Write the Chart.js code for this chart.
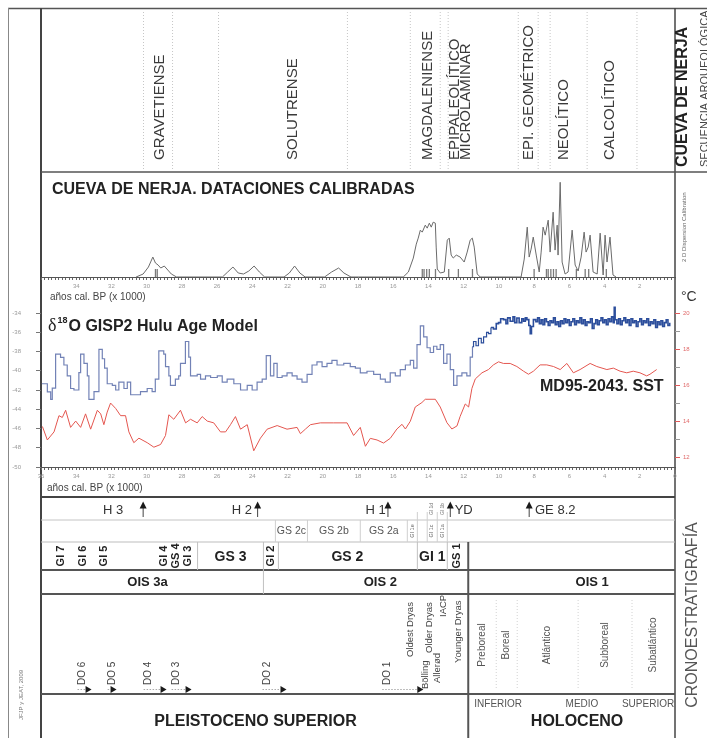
<!DOCTYPE html>
<html lang="es">
<head>
<meta charset="utf-8">
<title>Cueva de Nerja</title>
<script src="https://cdn.jsdelivr.net/npm/chart.js@4.4.1/dist/chart.umd.min.js"></script>
<style>
  html, body { margin: 0; padding: 0; background: #fff; }
  #fig { position: relative; width: 707px; height: 738px; overflow: hidden; }
  #fig canvas { position: absolute; left: 0; }
</style>
</head>
<body>
<div id="fig">
  <canvas id="chart-frame" width="707" height="738" style="top:0"></canvas>
  <canvas id="chart-dates" width="707" height="128" style="top:172px"></canvas>
  <canvas id="chart-climate" width="707" height="220" style="top:280px"></canvas>
</div>
<script>
// Cueva de Nerja: cultural sequence, calibrated dates, GISP2 d18O / MD95-2043 SST, chronostratigraphy
const SANS = "'Liberation Sans', Arial, sans-serif";
Chart.defaults.font.family = SANS;

// ── cultural periods (ka cal BP) ──
const cultLabels = ['GRAVETIENSE', 'SOLUTRENSE', 'MAGDALENIENSE', 'EPIPALEOLÍTICO\nMICROLAMINAR', 'EPI. GEOMÉTRICO', 'NEOLÍTICO', 'CALCOLÍTICO'];
const cultAges = [29.27, 21.72, 14.01, 12.2, 8.28, 6.3, 3.69];
const cultBounds = [30.18, 28.53, 25.92, 18.6, 15.03, 13.33, 12.88, 8.9, 7.77, 7.09, 4.99, 2.16];

// ── calibrated dates, summed probability (relative units) ──
const datesAge = [30.6, 30.2, 29.9, 29.75, 29.65, 29.5, 29.35, 29.2, 29.0, 28.8, 28.6, 28.3,
    25.7, 25.4, 25.1, 24.8, 24.5, 24.2, 23.9, 23.6, 23.3,
    22.2, 21.9, 21.6, 21.3, 21.0,
    19.9, 19.5, 19.1, 18.8, 18.4,
    15.43, 15.14, 14.86, 14.69, 14.58, 14.46, 14.35, 14.18, 14.07, 13.95, 13.84, 13.73, 13.61, 13.56, 13.5,
    13.33, 13.1, 12.93, 12.82, 12.71, 12.59, 12.42, 12.2, 11.97, 11.8, 11.63, 11.51, 11.4, 11.23, 11.06,
    8.74, 8.56, 8.39, 8.28, 8.17, 8.05, 7.88, 7.71, 7.6, 7.49, 7.37, 7.2, 7.09, 6.92, 6.81, 6.69, 6.64,
    6.52, 6.41, 6.24, 6.07, 5.84, 5.67, 5.5, 5.33, 5.16, 5.05, 4.93, 4.82, 4.65, 4.42, 4.25, 4.08, 3.97,
    3.86, 3.69, 3.52, 3.35];
const datesProb = [0, 3, 10, 16, 20, 14, 12, 9, 11, 7, 3, 0,
    0, 5, 10, 4, 3, 6, 11, 5, 0,
    0, 4, 11, 4, 0,
    0, 5, 9, 4, 0,
    0, 5, 19, 33, 39, 47, 45, 52, 49, 54, 50, 55, 54, 30, 8,
    4, 5, 37, 39, 22, 19, 22, 20, 15, 25, 37, 39, 30, 3, 0,
    0, 18, 50, 20, 28, 40, 22, 5, 25, 50, 42, 57, 25, 65, 27, 52, 22,
    95, 15, 3, 5, 47, 12, 6, 20, 45, 25, 30, 42, 5, 3, 44, 2, 42,
    15, 40, 2, 0];
const dateMarkAges = [29.5, 29.4, 14.35, 14.25, 14.1, 13.95, 13.6, 12.85, 12.3, 11.5, 8.0, 7.3, 7.2, 7.05, 6.9, 6.75, 5.6, 5.1, 4.9, 3.9];

// ── d18O GISP2 (Hulu age model), permil ──
const d18oAge = [35.95, 35.73, 35.64, 35.45, 35.36, 35.17, 34.89, 34.70, 34.51, 34.32, 34.13, 33.85, 33.75, 33.56,
    33.37, 33.28, 32.99, 32.71, 32.52, 32.39, 32.24, 31.95, 31.76, 31.58, 31.29, 31.10, 30.91, 30.35, 29.97,
    29.69, 29.51, 29.31, 29.03, 28.93, 28.74, 28.65, 28.37, 28.18, 28.08, 27.80, 27.61, 27.51, 27.13, 26.94,
    26.66, 26.37, 25.99, 25.71, 25.43, 25.05, 24.67, 24.29, 24.01, 23.73, 23.44, 23.21, 22.97, 22.78, 22.59,
    22.31, 22.03, 21.74, 21.46, 21.18, 20.89, 20.61, 20.33, 20.04, 19.76, 19.48, 19.19, 18.81, 18.44, 18.15,
    17.87, 17.49, 17.11, 16.73, 16.45, 16.17, 15.88, 15.60, 15.31, 15.03, 14.84, 14.65, 14.46, 14.27, 14.08,
    13.90, 13.71, 13.52, 13.33, 13.14, 12.95, 12.76, 12.57, 12.38, 12.10, 11.82, 11.63, 11.5, 11.44, 11.3,
    11.16, 11.0, 10.87, 10.7, 10.59, 10.45, 10.31, 10.15, 10.02, 9.9, 9.74, 9.6, 9.5, 9.36, 9.2, 9.1, 8.98,
    8.85, 8.7, 8.6, 8.5, 8.41, 8.3, 8.22, 8.15, 8.04, 7.9, 7.8, 7.7, 7.6, 7.5, 7.4, 7.3, 7.2, 7.1, 7.0, 6.9,
    6.8, 6.7, 6.6, 6.5, 6.4, 6.3, 6.2, 6.1, 6.0, 5.9, 5.8, 5.7, 5.6, 5.5, 5.4, 5.3, 5.2, 5.1, 5.0, 4.9, 4.8,
    4.7, 4.6, 4.5, 4.4, 4.3, 4.2, 4.1, 4.0, 3.9, 3.8, 3.7, 3.6, 3.5, 3.45, 3.4, 3.3, 3.2, 3.1, 3.0, 2.9, 2.8,
    2.7, 2.6, 2.5, 2.4, 2.3, 2.2, 2.1, 2.0, 1.9, 1.8, 1.7, 1.6, 1.5, 1.4, 1.3, 1.2, 1.1, 1.0, 0.9, 0.8, 0.7,
    0.6, 0.5, 0.4, 0.3];
const d18oValue = [-41.35, -41.35, -42.2, -42.98, -41.8, -38.26, -38.6, -39.4, -40.54, -41.84, -42.0, -40.2, -38.26, -39.24,
    -40.54, -42.98, -42.16, -37.77, -38.75, -39.72, -41.35, -41.51, -42.0, -41.19, -41.84, -41.19, -42.49, -42.16, -41.84,
    -42.16, -40.86, -37.93, -38.26, -39.56, -40.54, -41.51, -40.86, -40.54, -39.24, -36.96, -38.59, -40.54, -40.37, -40.86,
    -40.54, -40.7, -40.54, -41.19, -40.86, -41.35, -42.0, -41.51, -42.0, -41.19, -40.86, -38.42, -40.54, -39.24, -40.7,
    -40.54, -40.21, -40.54, -40.86, -41.19, -40.37, -39.4, -39.07, -39.56, -39.24, -38.91, -39.4, -39.24, -39.56, -39.72,
    -40.21, -40.05, -40.37, -40.86, -41.19, -40.21, -40.54, -39.89, -39.4, -38.91, -39.72, -37.28, -35.33, -36.47, -37.61,
    -38.1, -37.45, -37.77, -37.28, -39.24, -38.26, -39.89, -41.51, -40.54, -40.21, -40.54, -38.59, -37.5, -36.96, -37.4,
    -36.63, -37.1, -36.47, -36.0, -36.15, -35.5, -35.66, -35.1, -35.0, -34.6, -34.68, -35.1, -34.5, -34.85, -34.4, -35.0, -34.52,
    -35.0, -34.6, -34.85, -34.5, -34.68, -35.3, -36.15, -35.4, -34.68, -34.9, -34.5, -35.1, -34.7, -35.2, -34.6, -34.9, -35.3, -34.8, -35.0, -34.5,
    -35.2, -34.9, -35.4, -34.8, -35.1, -34.6, -35.0, -34.7, -35.3, -34.9, -34.6, -35.2, -34.8, -35.0, -34.5, -35.1, -34.7, -35.3, -34.9, -35.0, -34.6,
    -35.6, -35.1, -34.7, -35.2, -34.8, -34.5, -35.0, -34.7, -35.2, -34.6, -34.9, -34.4, -35.0, -33.4, -34.7, -35.1, -34.6, -35.2, -34.8, -34.5, -35.0,
    -34.7, -35.3, -34.6, -35.0, -34.8, -35.4, -34.9, -34.6, -35.2, -34.8, -35.0, -34.6, -35.3, -34.9, -35.1, -34.7, -35.5, -34.9, -35.2, -34.8, -35.4,
    -35.0, -34.7, -35.3, -35.0];

// ── MD95-2043 sea surface temperature, °C ──
const sstAge = [35.92, 35.64, 35.26, 34.98, 34.79, 34.60, 34.32, 34.03, 33.75, 33.47, 33.18, 32.80, 32.61, 32.43, 32.24,
    32.05, 31.76, 31.48, 31.20, 31.01, 30.73, 30.44, 29.97, 29.59, 29.21, 28.93, 28.74, 28.46, 28.08, 27.79, 27.51,
    27.13, 26.85, 26.56, 26.19, 25.81, 25.52, 25.24, 24.96, 24.67, 24.29, 23.92, 23.54, 23.16, 22.59, 22.03, 21.46,
    21.27, 20.99, 20.70, 20.14, 19.38, 18.62, 18.25, 17.87, 17.58, 17.30, 16.92, 16.55, 16.17, 15.79, 15.50, 15.31,
    15.03, 14.75, 14.37, 14.18, 13.61, 13.33, 12.95, 12.67, 12.38, 12.20, 11.91, 11.72, 11.53, 11.34, 10.96, 10.59,
    10.31, 10.02, 9.74, 9.36, 8.98, 8.60, 8.32, 8.04, 7.66, 7.28, 6.90, 6.52, 6.14, 5.77, 5.39, 4.82, 4.44, 3.87,
    3.50, 3.12, 2.74, 2.37, 1.99, 1.61, 1.42, 1.04];
const sstValue = [13.7, 12.95, 13.4, 14.3, 14.2, 14.6, 13.65, 14.0, 13.65, 14.4, 13.55, 14.6, 14.4, 13.8, 14.5,
    15.0, 14.7, 14.3, 14.3, 13.4, 12.8, 13.05, 12.8, 12.55, 12.7, 13.2, 14.35, 14.1, 14.6, 13.9, 14.1,
    13.9, 14.25, 14.0, 13.9, 13.4, 13.4, 13.8, 14.25, 13.55, 13.8, 12.35, 13.05, 13.55, 13.75, 13.55, 13.65,
    13.3, 13.55, 13.8, 13.9, 13.9, 13.9, 13.2, 13.65, 12.6, 13.04, 12.95, 12.78, 13.04, 13.56, 13.82, 13.56,
    13.99, 14.78, 15.03, 15.21, 15.21, 14.78, 13.91, 13.56, 13.73, 14.26, 14.95, 14.78, 15.82, 16.34, 16.68, 16.86,
    17.12, 17.29, 17.2, 17.2, 17.03, 16.77, 16.6, 16.77, 17.12, 17.12, 17.03, 16.86, 17.2, 16.68, 16.86, 17.2, 17.03, 16.86,
    16.94, 16.77, 16.68, 16.77, 16.68, 16.51, 16.6, 16.86];

const d18oTicks = [-34, -36, -38, -40, -42, -44, -46, -48, -50];
const sstTicks = [20, 19, 18, 17, 16, 15, 14, 13, 12];

// ── chronostratigraphy table ──
const hLabels = ['H 3', 'H 2', 'H 1', 'YD', 'GE 8.2'];
const hAges = [30.2, 23.7, 16.3, 12.76, 8.28];
const hTextAges = [31.9, 24.6, 17.0, 12.0, 6.8];
const gs2Labels = ['GS 2c', 'GS 2b', 'GS 2a'];
const gs2Bounds = [22.69, 20.87, 17.87, 15.2];
const gi1SubBounds = [14.63, 14.07, 13.5, 12.93];
const gi1LowLabels = ['GI 1e', 'GI 1c', 'GI 1a'];
const gi1LowAges = [14.92, 13.8, 13.2];
const gi1HighLabels = ['GI 1d', 'GI 1b'];
const gi1HighAges = [13.8, 13.2];
const gsVLabels = ['GI 7', 'GI 6', 'GI 5', 'GI 4', 'GS 4', 'GI 3', 'GI 2', 'GS 1'];
const gsVAges = [34.88, 33.64, 32.44, 29.04, 28.36, 27.68, 22.97, 12.37];
const gsHLabels = ['GS 3', 'GS 2', 'GI 1'];
const gsHAges = [25.24, 18.6, 13.78];
const gsBounds = [27.11, 23.37, 22.52, 14.63, 12.93];
const oisLabels = ['OIS 3a', 'OIS 2', 'OIS 1'];
const oisAges = [29.95, 16.73, 4.7];
const oisBounds = [23.37];
const doLabels = ['DO 6', 'DO 5', 'DO 4', 'DO 3', 'DO 2', 'DO 1'];
const doTextAges = [33.64, 31.93, 29.89, 28.3, 23.14, 16.34];
const doArrowAges = [33.3, 31.88, 29.04, 27.62, 22.23, 14.46];
const lgLabels = ['Oldest Dryas', 'Bölling', 'Older Dryas', 'Allerød', 'IACP', 'Younger Dryas'];
const lgAges = [15.03, 14.2, 13.95, 13.5, 13.16, 12.31];
const pzLabels = ['Preboreal', 'Boreal', 'Atlántico', 'Subboreal', 'Subatlántico'];
const pzBounds = [11.74, 10.15, 8.96, 5.5, 2.44, 0];
const subLabels = ['INFERIOR', 'MEDIO', 'SUPERIOR'];
const subAges = [10.04, 5.28, 1.53];
const epochLabels = ['PLEISTOCENO SUPERIOR', 'HOLOCENO'];
const epochAges = [23.82, 5.56];
const epochBound = 11.74;

// layout (page pixels)
const ROW = { top: 497, r1: 520, r2: 542, r3: 570, r4: 594, r5: 694, bot: 738 };
const lgBottomY = [657, 689, 653, 683, 617, 663];

// ── drawing helpers ──
function line(ctx, x1, y1, x2, y2, color, width, dash) {
    ctx.save();
    ctx.strokeStyle = color;
    ctx.lineWidth = width;
    ctx.setLineDash(dash || []);
    ctx.beginPath();
    ctx.moveTo(x1, y1);
    ctx.lineTo(x2, y2);
    ctx.stroke();
    ctx.restore();
}

function text(ctx, str, x, y, font, color, align = 'left', baseline = 'alphabetic') {
    ctx.save();
    ctx.font = font;
    ctx.fillStyle = color;
    ctx.textAlign = align;
    ctx.textBaseline = baseline;
    ctx.fillText(str, x, y);
    ctx.restore();
}

// rotated text reading bottom to top, x is the column centre
function vtext(ctx, str, x, y, font, color, align = 'left') {
    ctx.save();
    ctx.translate(x, y);
    ctx.rotate(-Math.PI / 2);
    ctx.font = font;
    ctx.fillStyle = color;
    ctx.textAlign = align;
    ctx.textBaseline = 'middle';
    ctx.fillText(str, 0, 0);
    ctx.restore();
}

function upArrow(ctx, x) {
    line(ctx, x, 508, x, 517, '#444', 1);
    ctx.save();
    ctx.fillStyle = '#1a1a1a';
    ctx.beginPath();
    ctx.moveTo(x, 501.5);
    ctx.lineTo(x - 3.5, 508.5);
    ctx.lineTo(x + 3.5, 508.5);
    ctx.closePath();
    ctx.fill();
    ctx.restore();
}

function rightArrow(ctx, x, y) {
    ctx.save();
    ctx.fillStyle = '#1a1a1a';
    ctx.beginPath();
    ctx.moveTo(x + 3, y);
    ctx.lineTo(x - 3, y - 3.5);
    ctx.lineTo(x - 3, y + 3.5);
    ctx.closePath();
    ctx.fill();
    ctx.restore();
}

const mid = (arr, i) => (arr[i] + arr[i + 1]) / 2;

const framePlugin = {
    id: 'nerjaFrame',
    afterDraw(chart) {
        const ctx = chart.ctx;
        const xs = chart.scales.x;
        const px = a => xs.getPixelForValue(a);
        const L = xs.left, R = xs.right;

        // cultural sequence
        cultBounds.forEach(b => line(ctx, px(b), 12, px(b), 170, '#c6c6c6', 1, [1, 2]));
        cultLabels.forEach((lab, i) => {
            const parts = lab.split('\n');
            parts.forEach((p, j) => {
                const off = (j - (parts.length - 1) / 2) * 11.5;
                vtext(ctx, p, px(cultAges[i]) + off, 160, `15px ${SANS}`, '#3a3a3a');
            });
        });

        // outer frame
        line(ctx, 8, 8.5, 707, 8.5, '#555', 1.5);
        line(ctx, 8.5, 8, 8.5, 738, '#888', 1);
        line(ctx, L, 8, L, 738, '#444', 2);
        line(ctx, R, 8, R, 738, '#444', 1.5);
        line(ctx, L, 172, 707, 172, '#555', 1.5);

        // side labels
        vtext(ctx, 'CUEVA DE NERJA', 683, 167, `bold 16px ${SANS}`, '#222');
        vtext(ctx, 'SECUENCIA ARQUEOLÓGICA', 705, 167, `11px ${SANS}`, '#444');
        vtext(ctx, '2 D Dispersion Calibration', 684, 262, `6px ${SANS}`, '#666');
        text(ctx, '°C', 681, 301, `14px ${SANS}`, '#333');
        vtext(ctx, 'CRONOESTRATIGRAFÍA', 693, 615, `16px ${SANS}`, '#555', 'center');
        vtext(ctx, 'JFJP y JEAT, 2009', 21, 695, `6px ${SANS}`, '#777', 'center');

        // panel titles
        text(ctx, 'CUEVA DE NERJA. DATACIONES CALIBRADAS', 52, 194, `bold 16px ${SANS}`, '#222');
        text(ctx, 'años cal. BP (x 1000)', 50, 300, `10px ${SANS}`, '#444');
        text(ctx, 'años cal. BP (x 1000)', 47, 491, `10px ${SANS}`, '#444');
        ctx.save();
        ctx.font = "18px 'Liberation Serif', serif";
        const wd = ctx.measureText('δ').width;
        ctx.font = `bold 9px ${SANS}`;
        const w18 = ctx.measureText('18').width;
        ctx.restore();
        text(ctx, 'δ', 48, 331, "18px 'Liberation Serif', serif", '#222');
        text(ctx, '18', 49 + wd, 323, `bold 9px ${SANS}`, '#222');
        text(ctx, 'O GISP2 Hulu Age Model', 50 + wd + w18, 331, `bold 16px ${SANS}`, '#222');
        text(ctx, 'MD95-2043. SST', 540, 391, `bold 16px ${SANS}`, '#222');

        // table rows
        line(ctx, L, ROW.top, R, ROW.top, '#444', 2);
        line(ctx, L, ROW.r1, R, ROW.r1, '#c4c4c4', 1);
        line(ctx, L, ROW.r2, R, ROW.r2, '#bdbdbd', 1);
        [ROW.r3, ROW.r4, ROW.r5].forEach(y => line(ctx, L, y, R, y, '#555', 2));

        // H events
        hLabels.forEach((lab, i) => {
            upArrow(ctx, px(hAges[i]));
            text(ctx, lab, px(hTextAges[i]), 510, `13px ${SANS}`, '#333', 'center', 'middle');
        });
        gi1HighLabels.forEach((lab, i) => vtext(ctx, lab, px(gi1HighAges[i]), 509, `5px ${SANS}`, '#777', 'center'));

        // GS 2 subdivisions
        gs2Bounds.forEach(b => line(ctx, px(b), ROW.r1, px(b), ROW.r2, '#cfcfcf', 1));
        gi1SubBounds.forEach(b => line(ctx, px(b), ROW.r1 - 8, px(b), ROW.r2, '#cfcfcf', 1));
        gs2Labels.forEach((lab, i) => text(ctx, lab, px(mid(gs2Bounds, i)), 531, `10.5px ${SANS}`, '#555', 'center', 'middle'));
        gi1LowLabels.forEach((lab, i) => vtext(ctx, lab, px(gi1LowAges[i]), 531, `5.5px ${SANS}`, '#666', 'center'));

        // GS / GI
        gsBounds.forEach(b => line(ctx, px(b), ROW.r2, px(b), ROW.r3, '#c0c0c0', 1));
        gsVLabels.forEach((lab, i) => vtext(ctx, lab, px(gsVAges[i]), 556, `bold 11px ${SANS}`, '#222', 'center'));
        gsHLabels.forEach((lab, i) => text(ctx, lab, px(gsHAges[i]), 557, `bold 14px ${SANS}`, '#222', 'center', 'middle'));

        // OIS
        oisBounds.forEach(b => line(ctx, px(b), ROW.r3, px(b), ROW.r4, '#c0c0c0', 1));
        oisLabels.forEach((lab, i) => text(ctx, lab, px(oisAges[i]), 582, `bold 13px ${SANS}`, '#222', 'center', 'middle'));

        // DO events and late glacial stages
        doLabels.forEach((lab, i) => {
            const tx = px(doTextAges[i]), ax = px(doArrowAges[i]);
            vtext(ctx, lab, tx, 685, `10px ${SANS}`, '#444');
            line(ctx, tx - 5, 689.5, ax - 3, 689.5, '#aaa', 1, [1.5, 1.5]);
            rightArrow(ctx, ax, 689.5);
        });
        lgLabels.forEach((lab, i) => vtext(ctx, lab, px(lgAges[i]), lgBottomY[i], `9.5px ${SANS}`, '#444'));

        // Holocene pollen zones
        pzBounds.slice(1, -1).forEach(b => line(ctx, px(b), 600, px(b), 690, '#d2d2d2', 1, [1, 2]));
        pzLabels.forEach((lab, i) => vtext(ctx, lab, px(mid(pzBounds, i)), 645, `10px ${SANS}`, '#555', 'center'));

        // epochs
        subLabels.forEach((lab, i) => text(ctx, lab, px(subAges[i]), 704, `10px ${SANS}`, '#555', 'center', 'middle'));
        epochLabels.forEach((lab, i) => text(ctx, lab, px(epochAges[i]), 722, `bold 16px ${SANS}`, '#222', 'center', 'middle'));
        line(ctx, px(epochBound), ROW.r2, px(epochBound), ROW.bot, '#555', 2);
    },
};

function evenAge(v, keepEnds) {
    const r = Math.round(v);
    if (Math.abs(v - r) > 1e-6 || r % 2 !== 0) return '';
    if (!keepEnds && (r === 0 || r === 36)) return '';
    return String(r);
}

function ageAxis(keepEnds, height) {
    return {
        type: 'linear',
        reverse: true,
        min: 0,
        max: 36,
        afterFit: axis => { axis.height = height; },
        border: { display: true, color: '#555', width: 1 },
        grid: { drawOnChartArea: false, tickLength: 3, color: '#666' },
        ticks: {
            stepSize: 0.2,
            autoSkip: false,
            maxRotation: 0,
            padding: 3,
            color: '#999',
            font: { size: 6 },
            callback: v => evenAge(v, keepEnds),
        },
    };
}

const noChrome = { legend: { display: false }, tooltip: { enabled: false } };

// background: frame, cultural sequence and chronostratigraphy
new Chart(document.getElementById('chart-frame'), {
    type: 'scatter',
    data: { datasets: [] },
    plugins: [framePlugin],
    options: {
        responsive: false,
        animation: false,
        layout: { padding: { left: 41, right: 32, top: 0, bottom: 0 } },
        plugins: noChrome,
        scales: {
            x: { type: 'linear', reverse: true, min: 0, max: 36, display: false },
            y: { min: 0, max: 1, display: false },
        },
    },
});

// calibrated dates
new Chart(document.getElementById('chart-dates'), {
    type: 'line',
    data: {
        datasets: [
            {
                label: 'Dataciones calibradas',
                data: datesAge.map((a, i) => ({ x: a, y: datesProb[i] })),
                borderColor: '#6b6b6b',
                borderWidth: 1,
                pointRadius: 0,
                tension: 0,
            },
            {
                label: 'Fechas',
                data: dateMarkAges.map(a => ({ x: a, y: 4 })),
                showLine: false,
                pointStyle: 'line',
                pointRotation: 90,
                pointRadius: 4,
                pointBorderColor: '#7a7a7a',
                pointBorderWidth: 1.3,
            },
        ],
    },
    options: {
        responsive: false,
        animation: false,
        layout: { padding: { top: 5, left: 41, right: 32, bottom: 0 } },
        plugins: noChrome,
        scales: {
            x: ageAxis(false, 23),
            y: { display: false, min: 0, max: 100 },
        },
    },
});

// d18O GISP2 and MD95-2043 SST
new Chart(document.getElementById('chart-climate'), {
    type: 'line',
    data: {
        datasets: [
            {
                label: 'δ18O GISP2',
                data: d18oAge.map((a, i) => ({ x: a, y: d18oValue[i] })),
                yAxisID: 'yL',
                borderColor: '#6f7fb4',
                borderWidth: 1.2,
                pointRadius: 0,
                stepped: true,
                segment: {
                    borderColor: c => (c.p0.parsed.x < 11.6 ? '#2c4e9c' : '#7282b6'),
                    borderWidth: c => (c.p0.parsed.x < 10.5 ? 1.6 : 1.2),
                },
            },
            {
                label: 'MD95-2043 SST',
                data: sstAge.map((a, i) => ({ x: a, y: sstValue[i] })),
                yAxisID: 'yR',
                borderColor: '#e4564f',
                borderWidth: 1,
                pointRadius: 0,
                tension: 0,
            },
        ],
    },
    options: {
        responsive: false,
        animation: false,
        layout: { padding: { top: 8, left: 0, right: 0, bottom: 0 } },
        plugins: noChrome,
        scales: {
            x: ageAxis(true, 33),
            yL: {
                position: 'left',
                min: -50,
                max: -32.5,
                afterFit: axis => { axis.width = 41; },
                afterBuildTicks: axis => { axis.ticks = d18oTicks.map(v => ({ value: v })); },
                border: { display: false },
                grid: { drawOnChartArea: false, tickLength: 5, color: '#777' },
                ticks: { color: '#999', font: { size: 6 }, padding: 15 },
            },
            yR: {
                position: 'right',
                min: 11.45,
                max: 20.8,
                afterFit: axis => { axis.width = 32; },
                afterBuildTicks: axis => { axis.ticks = sstTicks.map(v => ({ value: v })); },
                border: { display: false },
                grid: {
                    drawOnChartArea: false,
                    tickLength: 5,
                    color: c => (c.tick && c.tick.value % 2 === 0 ? '#e05a5a' : '#999'),
                },
                ticks: {
                    color: '#e06a6a',
                    font: { size: 6 },
                    padding: 3,
                    callback: v => (v % 2 === 0 ? String(v) : ''),
                },
            },
        },
    },
});
</script>
</body>
</html>
